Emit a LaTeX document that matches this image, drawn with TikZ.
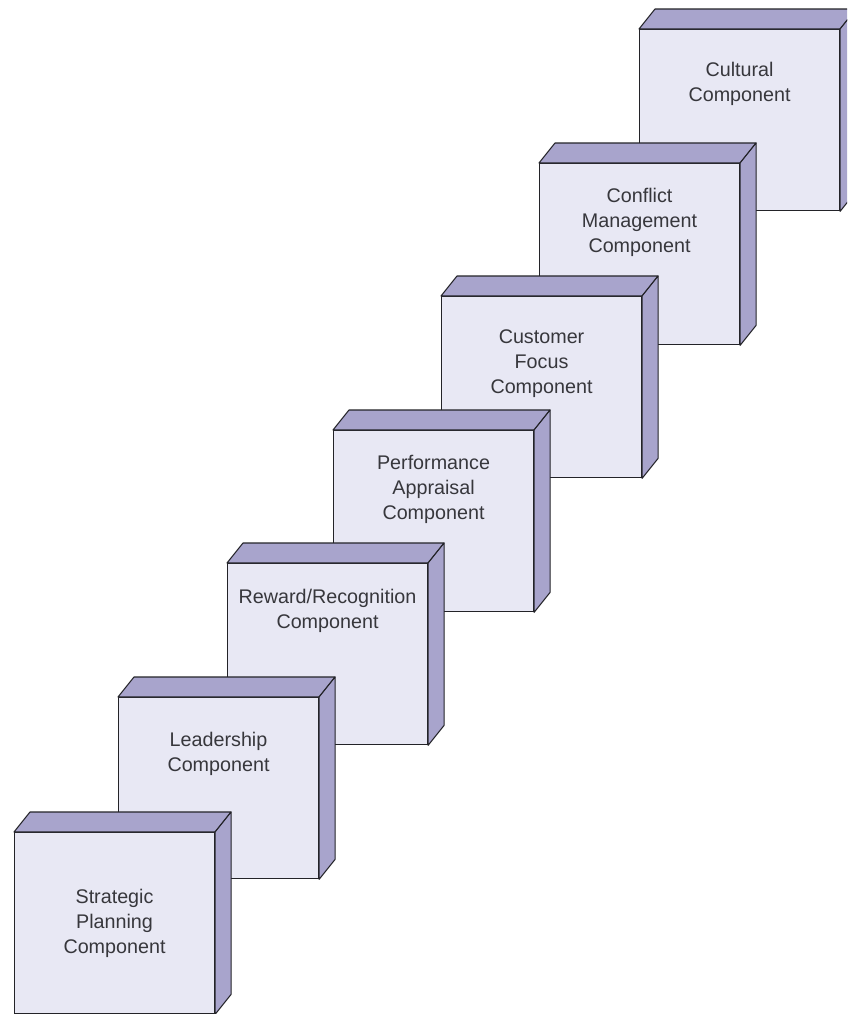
\documentclass[tikz,border=0pt]{standalone}
\usepackage{fontspec}
\setmainfont{Liberation Sans}
\usetikzlibrary{positioning}

\definecolor{facecol}{RGB}{232,232,244}
\definecolor{sidecol}{RGB}{168,164,204}
\definecolor{edgecol}{RGB}{35,35,40}
\definecolor{textcol}{RGB}{55,55,60}

\tikzset{
    face/.style={draw=edgecol, fill=facecol, line width=0.8pt, anchor=north west,
        minimum width=150pt, minimum height=136pt, inner sep=0pt},
    shade/.style={draw=edgecol, fill=sidecol, line width=0.8pt, line join=round},
    lbl/.style={align=center, text=textcol, inner sep=0pt,
        font=\fontsize{14.8}{18.8}\selectfont}
}

\begin{document}
\begin{tikzpicture}[x=0.75pt, y=-0.75pt]

        \clip (0,0) rectangle (847,1014);

        % Blocks, back to front, each with its top and right side
        \foreach \n/\x/\y in {cult/639/29, confl/539/163, cust/441/296, perf/333/430,
                              rew/227/563, lead/118/697, strat/14/832} {
            \node[face] (\n) at (\x,\y) {};
            \draw[shade] (\n.north west) -- ++(16,-20) -- ([shift={(16,-20)}]\n.north east)
                -- (\n.north east) -- cycle;
            \draw[shade] (\n.north east) -- ++(16,-20) -- ([shift={(16,-20)}]\n.south east)
                -- (\n.south east) -- cycle;
        }

        % Labels
        \node[lbl, below=24.75pt of cult.north] (cultlbl) {Cultural\\Component};
        \node[lbl, below=18.75pt of confl.north] (confllbl) {Conflict\\Management\\Component};
        \node[lbl, below=24.75pt of cust.north] (custlbl) {Customer\\Focus\\Component};
        \node[lbl, below=18.75pt of perf.north] (perflbl) {Performance\\Appraisal\\Component};
        \node[lbl, below=19.5pt of rew.north] (rewlbl) {Reward/Recognition\\Component};
        \node[lbl, below=26.25pt of lead.north] (leadlbl) {Leadership\\Component};
        \node[lbl, below=42.75pt of strat.north] (stratlbl) {Strategic\\Planning\\Component};
    \end{tikzpicture}
\end{document}
